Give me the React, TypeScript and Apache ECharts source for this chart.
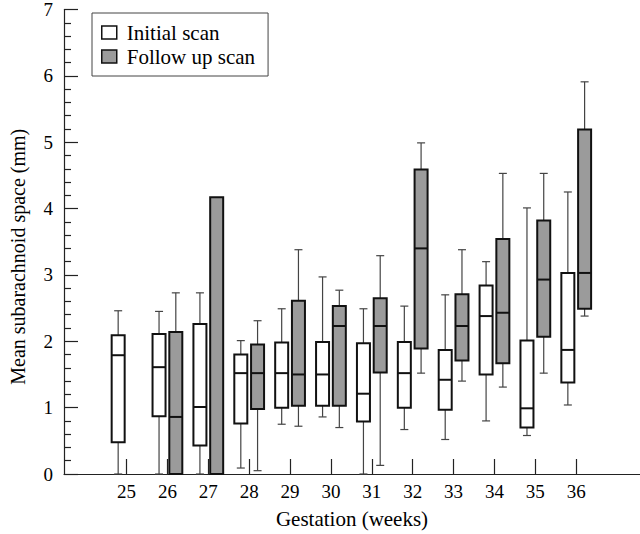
import React, { useEffect, useRef } from "react";
import * as echarts from "echarts";

// Gestation weeks
const weeks = [25, 26, 27, 28, 29, 30, 31, 32, 33, 34, 35, 36];

// [min, q1, median, q3, max] in mm
const initialScan: (number[] | null)[] = [
  [0, 0.48, 1.79, 2.09, 2.46],
  [0, 0.87, 1.61, 2.11, 2.45],
  [0, 0.43, 1.01, 2.26, 2.73],
  [0.09, 0.76, 1.52, 1.8, 2.01],
  [0.75, 1.0, 1.52, 1.98, 2.49],
  [0.86, 1.03, 1.5, 1.99, 2.97],
  [0, 0.79, 1.21, 1.97, 2.49],
  [0.67, 1.0, 1.52, 1.99, 2.53],
  [0.52, 0.97, 1.42, 1.87, 2.7],
  [0.8, 1.5, 2.38, 2.84, 3.2],
  [0.58, 0.7, 0.99, 2.01, 4.01],
  [1.04, 1.38, 1.87, 3.03, 4.25],
];

const followUpScan: (number[] | null)[] = [
  null,
  [0, 0, 0.86, 2.14, 2.73],
  [0, 0, 0, 4.17, 4.17],
  [0.05, 0.98, 1.52, 1.95, 2.31],
  [0.72, 1.03, 1.5, 2.61, 3.38],
  [0.7, 1.03, 2.23, 2.53, 2.77],
  [0.13, 1.53, 2.23, 2.65, 3.29],
  [1.52, 1.89, 3.4, 4.59, 4.99],
  [1.4, 1.71, 2.23, 2.71, 3.38],
  [1.31, 1.67, 2.43, 3.54, 4.53],
  [1.52, 2.07, 2.93, 3.82, 4.53],
  [2.38, 2.49, 3.03, 5.19, 5.91],
];

const yTicks = [0, 1, 2, 3, 4, 5, 6, 7];

const FONT = "Liberation Serif";
const GRAY = "#9b9b9b";

function buildData(values: (number[] | null)[]) {
  const out: number[][] = [];
  values.forEach((v, i) => {
    if (v) out.push([weeks[i], ...v]);
  });
  return out;
}

function makeRender(offsetUnits: number, fill: string) {
  return (params: any, api: any) => {
    const w = api.value(0);
    const mn = api.value(1);
    const q1 = api.value(2);
    const md = api.value(3);
    const q3 = api.value(4);
    const mx = api.value(5);
    const xc = api.coord([w + offsetUnits, 0])[0];
    const y = (v: number) => api.coord([w, v])[1];
    const half = 6.5;
    const cap = 4;
    const wStyle = { stroke: "#444", lineWidth: 1.2 };
    const children: any[] = [];
    if (mx > q3) {
      children.push({ type: "line", shape: { x1: xc, y1: y(q3), x2: xc, y2: y(mx) }, style: wStyle });
      children.push({ type: "line", shape: { x1: xc - cap, y1: y(mx), x2: xc + cap, y2: y(mx) }, style: wStyle });
    }
    if (mn < q1) {
      children.push({ type: "line", shape: { x1: xc, y1: y(q1), x2: xc, y2: y(mn) }, style: wStyle });
      children.push({ type: "line", shape: { x1: xc - cap, y1: y(mn), x2: xc + cap, y2: y(mn) }, style: wStyle });
    }
    children.push({
      type: "rect",
      shape: { x: xc - half, y: y(q3), width: half * 2, height: y(q1) - y(q3) },
      style: { fill, stroke: "#111", lineWidth: 2 },
    });
    children.push({
      type: "line",
      shape: { x1: xc - half, y1: y(md), x2: xc + half, y2: y(md) },
      style: { stroke: "#111", lineWidth: 2 },
    });
    return { type: "group", children };
  };
}

export default function App() {
  const ref = useRef<HTMLDivElement>(null);
  useEffect(() => {
    document.body.style.margin = "0";
    const chart = echarts.init(ref.current!, null, { renderer: "svg" });
    chart.setOption({
      animation: false,
      backgroundColor: "#fff",
      textStyle: { fontFamily: FONT },
      grid: { left: 64, right: 0, top: 7, bottom: 58 },
      legend: {
        orient: "vertical",
        left: 92,
        top: 13,
        padding: [9, 13, 9, 9],
        borderColor: "#444",
        borderWidth: 1,
        itemWidth: 15,
        itemHeight: 13,
        itemGap: 3,
        textStyle: { fontFamily: FONT, fontSize: 21, color: "#000", padding: [0, 0, 0, 5] },
        data: [
          { name: "Initial scan", icon: "rect", itemStyle: { color: "#fff", borderColor: "#111", borderWidth: 1.5 } },
          { name: "Follow up scan", icon: "rect", itemStyle: { color: GRAY, borderColor: "#111", borderWidth: 1.5 } },
        ],
      },
      xAxis: {
        type: "value",
        min: 23.47,
        max: 37.56,
        name: "Gestation (weeks)",
        nameLocation: "middle",
        nameGap: 34,
        nameTextStyle: { fontFamily: FONT, fontSize: 21, color: "#000" },
        axisLine: { show: true, lineStyle: { color: "#222", width: 1.2 } },
        axisTick: { show: true, inside: true, length: 15, customValues: weeks, lineStyle: { color: "#222", width: 1.2 } },
        axisLabel: { customValues: weeks, fontFamily: FONT, fontSize: 19, color: "#000", margin: 8 },
        splitLine: { show: false },
      },
      yAxis: {
        type: "value",
        min: 0,
        max: 7,
        interval: 1,
        name: "Mean subarachnoid space (mm)",
        nameLocation: "middle",
        nameGap: 36,
        nameTextStyle: { fontFamily: FONT, fontSize: 20, color: "#000", padding: [0, 30, 0, 0] },
        axisLine: { show: true, lineStyle: { color: "#222", width: 1.2 } },
        axisTick: { show: true, inside: true, length: 14, lineStyle: { color: "#222", width: 1.2 } },
        minorTick: { show: true, splitNumber: 5, length: 7, lineStyle: { color: "#222", width: 1.2 } },
        axisLabel: {
          fontFamily: FONT,
          fontSize: 19,
          color: "#000",
          margin: 11,
          customValues: yTicks,
        },
        splitLine: { show: false },
        minorSplitLine: { show: false },
      },
      series: [
        {
          name: "Initial scan",
          type: "custom",
          itemStyle: { color: "#fff", borderColor: "#111" },
          renderItem: makeRender(-0.205, "#fff"),
          encode: { x: 0, y: [1, 2, 3, 4, 5] },
          data: buildData(initialScan),
          clip: false,
        },
        {
          name: "Follow up scan",
          type: "custom",
          itemStyle: { color: GRAY, borderColor: "#111" },
          renderItem: makeRender(0.205, GRAY),
          encode: { x: 0, y: [1, 2, 3, 4, 5] },
          data: buildData(followUpScan),
          clip: false,
        },
      ],
    });
    return () => chart.dispose();
  }, []);
  return <div ref={ref} style={{ width: 640, height: 534 }} />;
}
